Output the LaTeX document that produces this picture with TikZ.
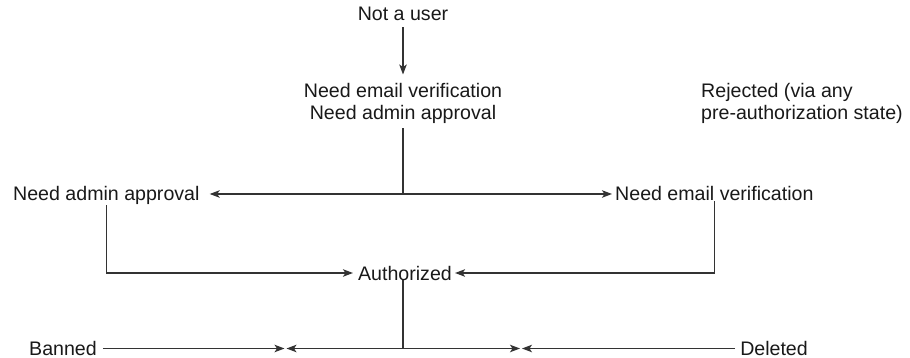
\documentclass[tikz,border=0pt]{standalone}
\usepackage{fontspec}
\setmainfont{Liberation Sans}
\usetikzlibrary{arrows.meta}
\begin{document}
\begin{tikzpicture}[x=1pt,y=-1pt,
  lbl/.style={font=\fontsize{19.6}{22}\selectfont, text=black!90, inner sep=0pt},
  link/.style={line width=1.2pt, draw=black!80},
  arr/.style={link, -{Stealth[length=10pt,width=7.5pt,inset=2.5pt]}}]
\useasboundingbox (0,0) rectangle (910,358);

% states
\node[lbl, anchor=base] (nau) at (403,21) {Not a user};
\node[lbl, anchor=north, align=center] (start) at (403,83.5)
  {Need email verification\\Need admin approval};
\node[lbl, anchor=north west, align=left] (rej) at (701,83.5)
  {Rejected (via any\\pre-authorization state)};
\node[lbl, anchor=base west] (admin) at (13,201) {Need admin approval};
\node[lbl, anchor=base west] (email) at (615,201) {Need email verification};
\node[lbl, anchor=base] (auth) at (405,280) {Authorized};
\node[lbl, anchor=base west] (banned) at (29,355.5) {Banned};
\node[lbl, anchor=base east] (deleted) at (808,355.5) {Deleted};

% junctions
\coordinate (fork) at (start.south |- email.west);
\coordinate (split) at (403,348.5);
\coordinate (meetL) at (285.5,348.5);
\coordinate (meetR) at (521,348.5);

% transitions
\draw[arr] ([yshift=-6pt]nau.south) -- ([yshift=9pt]start.north);
\draw[link] ([yshift=-4pt]start.south) -- (fork);
\draw[arr] (fork) -- ([xshift=10pt]admin.east |- fork);
\draw[arr] (fork) -- ([xshift=-3pt]email.west |- fork);
\draw[arr] (admin.south) |- ([xshift=-5pt]auth.west);
\draw[arr] (email.south) |- ([xshift=3pt]auth.east);
\draw[link] (auth.south -| split) -- (split);
\draw[arr] ([xshift=6pt]banned.east |- split) -- ([xshift=-1pt]meetL);
\draw[arr] (split) -- ([xshift=1pt]meetL);
\draw[arr] (split) -- ([xshift=-1pt]meetR);
\draw[arr] ([xshift=-5pt]deleted.west |- split) -- ([xshift=1pt]meetR);
\end{tikzpicture}
\end{document}
